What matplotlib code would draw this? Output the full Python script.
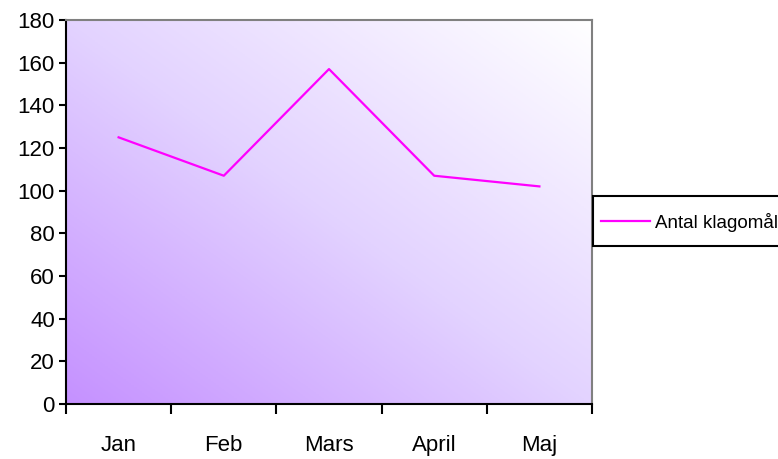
import matplotlib
matplotlib.use('Agg')
import matplotlib.pyplot as plt
import numpy as np
from matplotlib.colors import LinearSegmentedColormap
from matplotlib.patches import Rectangle

plt.rcParams['font.family'] = ['Liberation Sans', 'DejaVu Sans']

months = ['Jan', 'Feb', 'Mars', 'April', 'Maj']
complaints = [125, 107, 157, 107, 102]
y_ticks = list(range(0, 181, 20))
series_name = 'Antal klagomål'

W, H = 778, 459
fig = plt.figure(figsize=(W / 100, H / 100), dpi=100)
ax = fig.add_axes([66 / W, 55 / H, 526 / W, 384 / H])

# diagonal gradient: purple bottom-left -> white top-right
cmap = LinearSegmentedColormap.from_list('bg', ['#c591ff', '#e3d3ff', '#ffffff'])
gx, gy = np.meshgrid(np.linspace(0, 1, 200), np.linspace(0, 1, 200))
grad = (gx + gy) / 2
ax.imshow(grad, cmap=cmap, extent=[0, 1, 0, 1], origin='lower',
          transform=ax.transAxes, aspect='auto', zorder=0)

x = np.arange(len(months))
ax.plot(x, complaints, color='#ff00ff', linewidth=1.6, zorder=3, label=series_name)

ax.set_xlim(-0.5, len(months) - 0.5)
ax.set_ylim(0, 180)
ax.set_yticks(y_ticks)
ax.set_xticks(np.arange(-0.5, len(months), 1.0))
ax.set_xticklabels([])
ax.set_xticks(x, minor=True)
ax.set_xticklabels(months, minor=True)
ax.tick_params(axis='x', which='minor', length=0, pad=22, labelsize=16)
ax.tick_params(axis='x', which='major', length=7, width=1.5, direction='out')
ax.tick_params(axis='y', length=5, width=1.5, direction='out', labelsize=16, pad=3)

ax.spines['left'].set_color('black')
ax.spines['bottom'].set_color('black')
ax.spines['left'].set_linewidth(1.5)
ax.spines['bottom'].set_linewidth(1.5)
for s in ['top', 'right']:
    ax.spines[s].set_color('#808080')
    ax.spines[s].set_linewidth(1.5)

# legend box (runs off the right edge like the original)
fig.patches.append(Rectangle((593 / W, 1 - 246 / H), 200 / W, 50 / H,
                             transform=fig.transFigure, facecolor='white',
                             edgecolor='black', linewidth=1.5, zorder=1))
leg = fig.legend(loc='center left', bbox_to_anchor=(597 / W, 1 - 222 / H),
                 frameon=False, fontsize=13.5,
                 handlelength=2.6, handletextpad=0.3, borderpad=0.2,
                 borderaxespad=0)
leg.set_zorder(2)

fig.savefig('out.png', dpi=100)
